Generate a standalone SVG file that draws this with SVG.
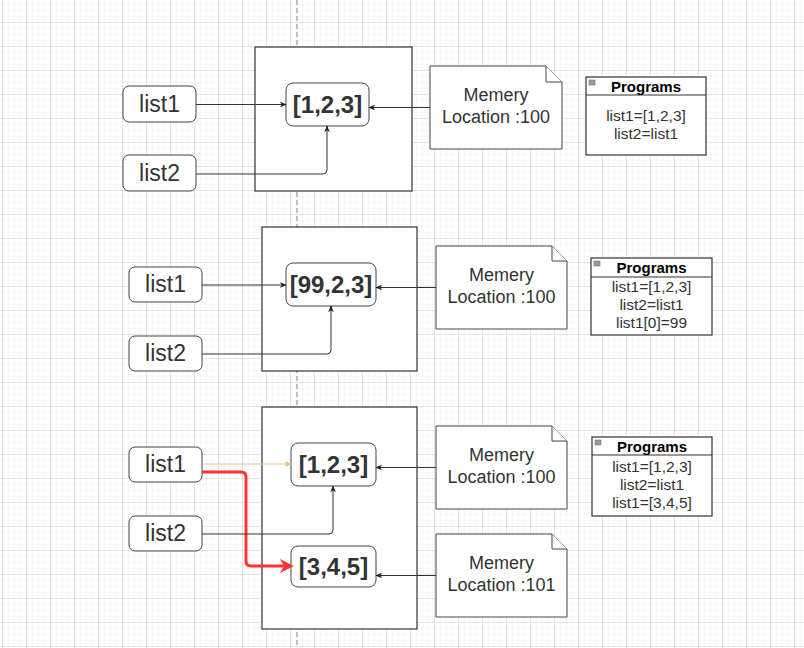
<svg xmlns="http://www.w3.org/2000/svg" width="804" height="648" viewBox="0 0 804 648">
<defs>
<pattern id="minor" x="2" y="22" width="6" height="6" patternUnits="userSpaceOnUse">
<path d="M0 0H6M0 0V6" fill="none" stroke="#f0f0f0" stroke-width="1"/>
</pattern>
<pattern id="major" x="2" y="22" width="24" height="24" patternUnits="userSpaceOnUse">
<path d="M0 0H24M0 0V24" fill="none" stroke="#d4d4d4" stroke-width="1.2"/>
</pattern>
<marker id="ah" viewBox="0 0 10 10" refX="9" refY="5" markerWidth="7" markerHeight="7" orient="auto" markerUnits="userSpaceOnUse">
<path d="M0 1 L10 5 L0 9 L3 5 Z" fill="#222"/>
</marker>
<marker id="ahy" viewBox="0 0 10 10" refX="9" refY="5" markerWidth="7" markerHeight="7" orient="auto" markerUnits="userSpaceOnUse">
<path d="M0 1 L10 5 L0 9 L3 5 Z" fill="#e0c070"/>
</marker>
<marker id="ahr" viewBox="0 0 10 10" refX="8" refY="5" markerWidth="14" markerHeight="14" orient="auto" markerUnits="userSpaceOnUse">
<path d="M0 0 L10 5 L0 10 L3 5 Z" fill="#ff3333"/>
</marker>
</defs>
<style>
.var{fill:#fff;stroke:#444;stroke-width:1}
.val{fill:#fff;stroke:#444;stroke-width:1}
.box{fill:#fff;stroke:#333;stroke-width:1.2}
.note{fill:#fff;stroke:#444;stroke-width:1}
.t{font-family:"Liberation Sans",Arial,sans-serif;fill:#333;text-anchor:middle}
.vt{font-size:23px}
.bt{font-size:24px;font-weight:bold}
.nt{font-size:18px}
.ph{font-size:15px;font-weight:bold;fill:#000}
.pt{font-size:15.5px}
.c{fill:none;stroke:#333;stroke-width:1}
</style>
<rect width="804" height="648" fill="#fff"/>
<rect width="804" height="648" fill="url(#minor)"/>
<rect width="804" height="648" fill="url(#major)"/>
<line x1="297" y1="0" x2="297" y2="648" stroke="#b0b0b0" stroke-width="1.5" stroke-dasharray="5 3"/>

<g id="section1">
<rect id="box1" class="box" x="255" y="47" width="157" height="144"/>
<g id="list1-a"><rect class="var" x="123" y="86" width="73" height="36" rx="6"/><text class="t vt" x="159.5" y="112">list1</text></g>
<g id="list2-a"><rect class="var" x="123" y="155" width="73" height="36" rx="6"/><text class="t vt" x="159.5" y="181">list2</text></g>
<g id="val-a"><rect class="val" x="286" y="83" width="83" height="43" rx="7"/><text class="t bt" x="327.5" y="113">[1,2,3]</text></g>
<g id="note-a"><path class="note" d="M430 66H546L562 82V149H430Z"/><path class="note" d="M546 66V82H562"/><text class="t nt" x="496" y="101">Memery</text><text class="t nt" x="496" y="123">Location :100</text></g>
<g id="prog-a"><rect fill="#fff" stroke="#333" stroke-width="1.2" x="586" y="77" width="120" height="78"/><line x1="586" y1="95" x2="706" y2="95" stroke="#333" stroke-width="1.2"/><rect x="589" y="80" width="6" height="5" fill="#999" stroke="#777" stroke-width="0.6"/><text class="t ph" x="646" y="92">Programs</text><text class="t pt" x="646" y="121">list1=[1,2,3]</text><text class="t pt" x="646" y="139">list2=list1</text></g>
</g>

<g id="section2">
<rect id="box2" class="box" x="262" y="227" width="155" height="144"/>
<g id="list1-b"><rect class="var" x="129" y="267" width="73" height="35" rx="6"/><text class="t vt" x="165.5" y="292">list1</text></g>
<g id="list2-b"><rect class="var" x="129" y="336" width="73" height="35" rx="6"/><text class="t vt" x="165.5" y="361">list2</text></g>
<g id="val-b"><rect class="val" x="286" y="263" width="90" height="43" rx="7"/><text class="t bt" x="331" y="293">[99,2,3]</text></g>
<g id="note-b"><path class="note" d="M436 246H552L567 261V329H436Z"/><path class="note" d="M552 246V261H567"/><text class="t nt" x="501.5" y="281">Memery</text><text class="t nt" x="501.5" y="303">Location :100</text></g>
<g id="prog-b"><rect fill="#fff" stroke="#333" stroke-width="1.2" x="591" y="258" width="121" height="77"/><line x1="591" y1="277" x2="712" y2="277" stroke="#333" stroke-width="1.2"/><rect x="594" y="261" width="6" height="5" fill="#999" stroke="#777" stroke-width="0.6"/><text class="t ph" x="651.5" y="273">Programs</text><text class="t pt" x="651.5" y="292">list1=[1,2,3]</text><text class="t pt" x="651.5" y="310">list2=list1</text><text class="t pt" x="651.5" y="328">list1[0]=99</text></g>
</g>

<g id="section3">
<rect id="box3" class="box" x="262" y="407" width="155" height="222"/>
<g id="list1-c"><rect class="var" x="129" y="447" width="73" height="35" rx="6"/><text class="t vt" x="165.5" y="472">list1</text></g>
<g id="list2-c"><rect class="var" x="129" y="516" width="73" height="35" rx="6"/><text class="t vt" x="165.5" y="541">list2</text></g>
<g id="val-c1"><rect class="val" x="291" y="443" width="85" height="43" rx="7"/><text class="t bt" x="333.5" y="473">[1,2,3]</text></g>
<g id="val-c2"><rect class="val" x="291" y="546" width="85" height="41" rx="7"/><text class="t bt" x="333.5" y="575">[3,4,5]</text></g>
<g id="note-c1"><path class="note" d="M436 426H552L567 441V509H436Z"/><path class="note" d="M552 426V441H567"/><text class="t nt" x="501.5" y="461">Memery</text><text class="t nt" x="501.5" y="483">Location :100</text></g>
<g id="note-c2"><path class="note" d="M436 534H552L567 549V617H436Z"/><path class="note" d="M552 534V549H567"/><text class="t nt" x="501.5" y="569">Memery</text><text class="t nt" x="501.5" y="591">Location :101</text></g>
<g id="prog-c"><rect fill="#fff" stroke="#333" stroke-width="1.2" x="592" y="437" width="120" height="79"/><line x1="592" y1="455" x2="712" y2="455" stroke="#333" stroke-width="1.2"/><rect x="595" y="440" width="6" height="5" fill="#999" stroke="#777" stroke-width="0.6"/><text class="t ph" x="652" y="452">Programs</text><text class="t pt" x="652" y="472">list1=[1,2,3]</text><text class="t pt" x="652" y="490">list2=list1</text><text class="t pt" x="652" y="508">list1=[3,4,5]</text></g>
</g>

<g id="connectors">
<path class="c" d="M196 104.5H286" marker-end="url(#ah)"/>
<path class="c" d="M196 174H323Q327 174 327 170V126" marker-end="url(#ah)"/>
<path class="c" d="M430 107.5H369" marker-end="url(#ah)"/>
<path class="c" d="M202 285H286" marker-end="url(#ah)"/>
<path class="c" d="M202 354H327Q331 354 331 350V306" marker-end="url(#ah)"/>
<path class="c" d="M436 287.5H376" marker-end="url(#ah)"/>
<path d="M202 464H291" fill="none" stroke="#e0c890" stroke-width="1" marker-end="url(#ahy)"/>
<path d="M202 472H241Q246 472 246 477V561Q246 566 251 566H291" fill="none" stroke="#ff3333" stroke-width="3" marker-end="url(#ahr)"/>
<path class="c" d="M202 534H329Q333 534 333 530V486" marker-end="url(#ah)"/>
<path class="c" d="M436 467.5H376" marker-end="url(#ah)"/>
<path class="c" d="M436 575.5H376" marker-end="url(#ah)"/>
</g>
</svg>
